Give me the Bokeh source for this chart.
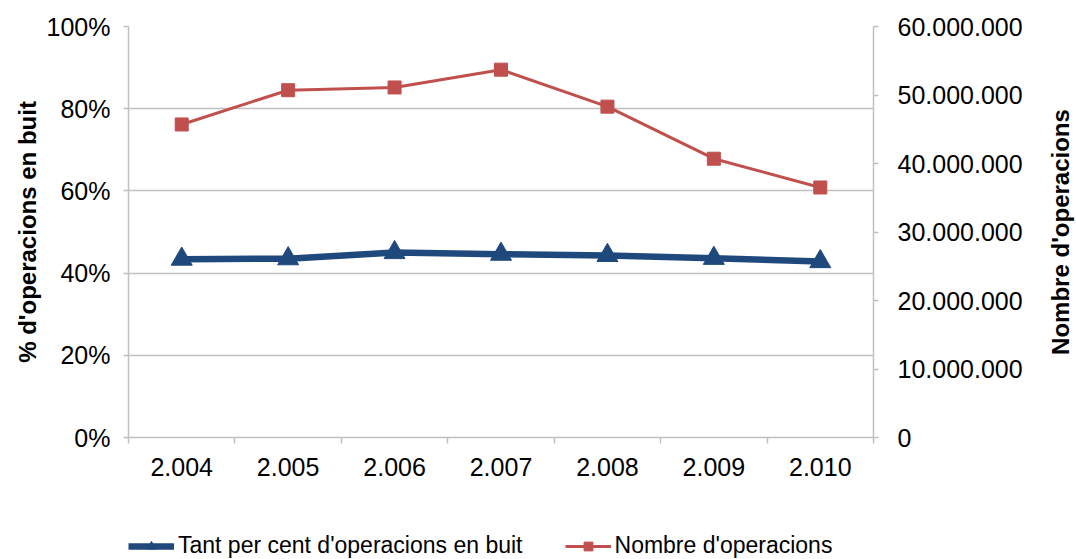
import math
from bokeh.plotting import figure
from bokeh.layouts import row, column
from bokeh.models import (Range1d, LinearAxis, FixedTicker, Legend, LegendItem, Grid, Label)
from bokeh.embed import file_html
from bokeh.resources import INLINE

# ---- data ----
years = ["2.004", "2.005", "2.006", "2.007", "2.008", "2.009", "2.010"]
pct_empty = [43.4, 43.5, 45.0, 44.6, 44.3, 43.6, 42.8]          # %
n_operations = [45.7e6, 50.7e6, 51.1e6, 53.7e6, 48.3e6, 40.7e6, 36.5e6]

left_ticks = [0, 20, 40, 60, 80, 100]
left_labels = ["0%", "20%", "40%", "60%", "80%", "100%"]
right_ticks = [0, 10e6, 20e6, 30e6, 40e6, 50e6, 60e6]
right_labels = ["0", "10.000.000", "20.000.000", "30.000.000",
                "40.000.000", "50.000.000", "60.000.000"]

series1_name = "Tant per cent d'operacions en buit"
series2_name = "Nombre d'operacions"
left_title = "% d'operacions en buit"
right_title = "Nombre d'operacions"

# ---- styling ----
FONT = "Liberation Sans"
BLUE = "#1F497D"
RED = "#C0504D"
GRID = "#C0C0C0"
W, H = 1044, 500      # main chart
RW = 32               # strip for the right-hand axis title
LH = 59               # legend strip height
TOP, BOTTOM = 26, H - 437

xs = list(range(1, len(years) + 1))

p = figure(width=W, height=H, output_backend="svg", toolbar_location=None,
           x_range=Range1d(0.5, len(years) + 0.5), y_range=Range1d(0, 100),
           min_border_left=128, min_border_right=W - 873, min_border_top=TOP,
           min_border_bottom=BOTTOM, y_axis_location=None, x_axis_location=None)
p.outline_line_color = None
p.background_fill_color = "white"
p.border_fill_color = "white"
p.extra_y_ranges = {"n": Range1d(0, 60e6)}

# bottom axis (category labels at centers, ticks at boundaries)
xaxis = LinearAxis(
    ticker=FixedTicker(ticks=xs, minor_ticks=[x + 0.5 for x in [0] + xs]),
    major_label_overrides={x: y for x, y in zip(xs, years)})
xaxis.major_tick_out = 0
xaxis.major_tick_in = 0
xaxis.minor_tick_out = 6
xaxis.minor_tick_in = 0
xaxis.minor_tick_line_color = GRID
xaxis.minor_tick_line_width = 1.5
xaxis.axis_line_color = GRID
xaxis.axis_line_width = 1.5
xaxis.major_label_text_font = FONT
xaxis.major_label_text_font_size = "25px"
xaxis.major_label_text_color = "#000000"
xaxis.major_label_standoff = 14
p.add_layout(xaxis, "below")

# left axis
yaxis = LinearAxis(ticker=FixedTicker(ticks=left_ticks, minor_ticks=[]),
                   major_label_overrides={t: l for t, l in zip(left_ticks, left_labels)},
                   axis_label=left_title)
# right axis (its title is drawn in the narrow strip to the right)
raxis = LinearAxis(y_range_name="n",
                   ticker=FixedTicker(ticks=right_ticks, minor_ticks=[]),
                   major_label_overrides={t: l for t, l in zip(right_ticks, right_labels)})
for ax, standoff in ((yaxis, 13), (raxis, 19)):
    ax.major_tick_out = 5
    ax.major_tick_in = 0
    ax.minor_tick_out = 0
    ax.minor_tick_in = 0
    ax.major_tick_line_color = GRID
    ax.major_tick_line_width = 1.5
    ax.axis_line_color = GRID
    ax.axis_line_width = 1.5
    ax.major_label_text_font = FONT
    ax.major_label_text_font_size = "25px"
    ax.major_label_text_color = "#000000"
    ax.major_label_standoff = standoff
    ax.axis_label_text_font = FONT
    ax.axis_label_text_font_size = "24px"
    ax.axis_label_text_font_style = "bold"
    ax.axis_label_text_color = "#000000"
yaxis.axis_label_standoff = 3
p.add_layout(yaxis, "left")
p.add_layout(raxis, "right")

# grid
p.xgrid.visible = False
p.ygrid.visible = False
p.add_layout(Grid(dimension=1, ticker=yaxis.ticker, grid_line_color=GRID,
                  grid_line_width=1.5))

# series
p.line(xs, n_operations, y_range_name="n", line_color=RED, line_width=3)
p.scatter(xs, n_operations, y_range_name="n", marker="square", size=13,
          fill_color=RED, line_color=RED)
p.line(xs, pct_empty, line_color=BLUE, line_width=6.5)
p.scatter(xs, pct_empty, marker="triangle", size=21,
          fill_color=BLUE, line_color=BLUE)

# ---- narrow strip holding the right-hand axis title (reads bottom to top) ----
r = figure(width=RW, height=H, output_backend="svg", toolbar_location=None,
           x_range=Range1d(0, 1), y_range=Range1d(0, 1),
           min_border_left=0, min_border_right=0, min_border_top=TOP,
           min_border_bottom=BOTTOM, x_axis_location=None, y_axis_location=None)
r.outline_line_color = None
r.xgrid.visible = False
r.ygrid.visible = False
r.border_fill_color = "white"
r.background_fill_color = "white"
r.add_layout(Label(x=0.5, y=0.5, text=right_title, angle=math.pi / 2,
                   text_align="center", text_baseline="middle",
                   text_font=FONT, text_font_size="24px", text_font_style="bold",
                   text_color="#000000"))

# ---- legend strip below the chart ----
# the key renderers reuse the series data but lie outside this strip's ranges,
# so only their legend samples are visible
q = figure(width=W + RW, height=LH, output_backend="svg", toolbar_location=None,
           x_range=Range1d(-10, -9), y_range=Range1d(-10, -9),
           min_border_left=128, min_border_right=W + RW - 873,
           min_border_top=0, min_border_bottom=0,
           x_axis_location=None, y_axis_location=None)
q.outline_line_color = None
q.xgrid.visible = False
q.ygrid.visible = False
q.border_fill_color = "white"
q.background_fill_color = "white"
k1l = q.line(xs, pct_empty, line_color=BLUE, line_width=6.5)
k1s = q.scatter(xs, pct_empty, marker="triangle", size=13, fill_color=BLUE, line_color=BLUE)
k2l = q.line(xs, n_operations, line_color=RED, line_width=3)
k2s = q.scatter(xs, n_operations, marker="square", size=10, fill_color=RED, line_color=RED)
legend = Legend(items=[LegendItem(label=series1_name, renderers=[k1l, k1s]),
                       LegendItem(label=series2_name, renderers=[k2l, k2s])],
                orientation="horizontal", location=(0, 0))
legend.label_text_font = FONT
legend.label_text_font_size = "23px"
legend.label_text_color = "#000000"
legend.glyph_width = 46
legend.glyph_height = 22
legend.label_height = 22
legend.label_standoff = 4
legend.spacing = 42
legend.padding = 0
legend.margin = 0
legend.border_line_color = None
legend.background_fill_alpha = 0
q.add_layout(legend, "center")

layout = column(row(p, r, spacing=0), q, spacing=0)
open("out.html", "w").write(file_html(layout, INLINE))
